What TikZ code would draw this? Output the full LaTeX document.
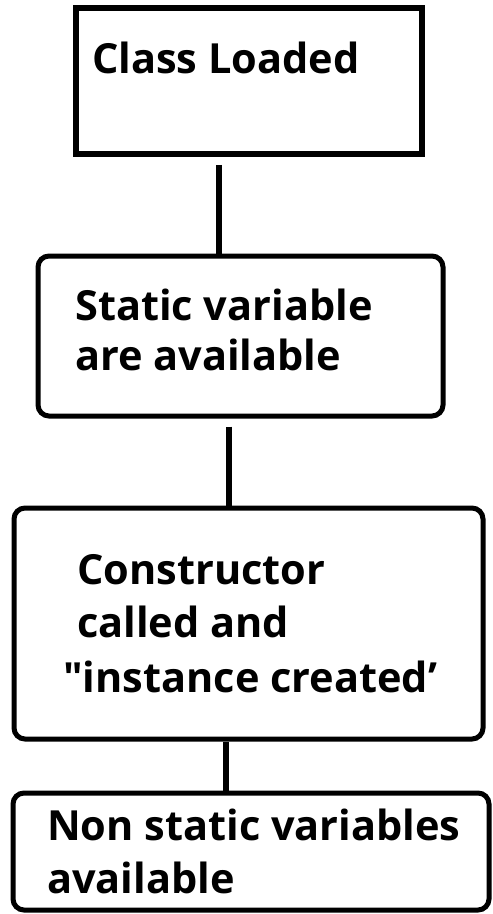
\documentclass[tikz,border=0pt]{standalone}
\usepackage{fontspec}
\setmainfont{Open Sans}
\usepackage{tikz}

\begin{document}
\begin{tikzpicture}[x=1pt,y=-1pt,
    box/.style={draw,line width=5.5pt,inner sep=0pt},
    rbox/.style={box,line width=5pt,rounded corners=11pt},
    txt/.style={anchor=base west,align=left,inner sep=0pt,font=\bfseries\fontsize{41.5}{53}\selectfont},
    link/.style={line width=5.5pt}]
  \useasboundingbox (0,0) rectangle (493,914);
  % boxes
  \node[box,minimum width=346pt,minimum height=146pt] (loaded) at (249,81) {};
  \node[rbox,minimum width=405pt,minimum height=160pt] (static) at (240.5,336) {};
  \node[rbox,minimum width=469pt,minimum height=231pt] (ctor) at (248.5,623.5) {};
  \node[rbox,minimum width=476pt,minimum height=117pt] (nonstatic) at (251,851.5) {};
  % texts
  \node[txt] (tloaded) at (92,73) {Class Loaded};
  \node[txt,font=\bfseries\fontsize{41.5}{50}\selectfont] (tstatic) at (75,370) {Static variable\\are available};
  \node[txt] (tctor) at (77,637) {Constructor\\called and};
  \node[txt] (tinst) at (63,692) {\textquotedbl instance created’};
  \node[txt] (tnonstatic) at (47,893) {Non static variables\\available};
  % links
  \draw[link,shorten <=8pt] ([xshift=-30pt]loaded.south) -- ([xshift=-30pt]loaded.south |- static.north);
  \draw[link,shorten <=8pt] ([xshift=-11.5pt]static.south) -- ([xshift=-11.5pt]static.south |- ctor.north);
  \draw[link] ([xshift=-22.5pt]ctor.south) -- ([xshift=-22.5pt]ctor.south |- nonstatic.north);
\end{tikzpicture}
\end{document}
